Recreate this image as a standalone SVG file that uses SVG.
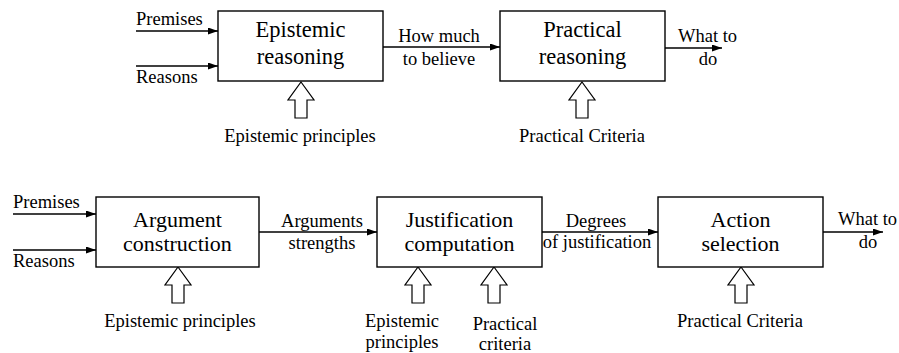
<svg xmlns="http://www.w3.org/2000/svg" width="899" height="353" viewBox="0 0 899 353">
<defs>
<style>
.box{fill:#fff;stroke:#000;stroke-width:1.4}
text{font-family:'Liberation Serif','Times New Roman',serif;fill:#000}
.big{font-size:22.5px;text-anchor:middle}
.big2{font-size:22px;text-anchor:middle}
.sm{font-size:18.5px}
.mid{text-anchor:middle}
.ln{stroke:#000;stroke-width:1.3;fill:none;marker-end:url(#ah)}
.blk{fill:#fff;stroke:#000;stroke-width:1.2;stroke-linejoin:miter}
</style>
<marker id="ah" markerUnits="userSpaceOnUse" markerWidth="11" markerHeight="8" refX="10" refY="3.5" orient="auto">
<path d="M0,0 L10,3.5 L0,7 z" fill="#000"/>
</marker>
<path id="blkTop" d="M0,0 L13,18 L6,18 L6,36 L-6,36 L-6,18 L-13,18 z"/>
</defs>

<g id="connectors">
<line class="ln" x1="136" y1="31" x2="218" y2="31"/>
<line class="ln" x1="136" y1="66" x2="218" y2="66"/>
<line class="ln" x1="383" y1="47" x2="500" y2="47"/>
<line class="ln" x1="665" y1="48" x2="722" y2="48"/>
<line class="ln" x1="13" y1="214" x2="96" y2="214"/>
<line class="ln" x1="13" y1="250" x2="96" y2="250"/>
<line class="ln" x1="259" y1="232" x2="377" y2="232"/>
<line class="ln" x1="542" y1="232" x2="658" y2="232"/>
<line class="ln" x1="823" y1="232" x2="883" y2="232"/>
<use href="#blkTop" class="blk" x="301" y="82"/>
<use href="#blkTop" class="blk" x="582" y="82"/>
<use href="#blkTop" class="blk" x="178" y="267"/>
<use href="#blkTop" class="blk" x="418" y="267"/>
<use href="#blkTop" class="blk" x="494" y="267"/>
<use href="#blkTop" class="blk" x="741" y="267"/>
</g>

<g id="labels-top">
<text class="sm" x="136" y="25">Premises</text>
<text class="sm" x="136" y="83">Reasons</text>
<text class="sm mid" x="439" y="42">How much</text>
<text class="sm mid" x="439" y="65">to believe</text>
<text class="sm" x="678" y="42">What to</text>
<text class="sm mid" x="708" y="65">do</text>
<text class="sm mid" x="300" y="142">Epistemic principles</text>
<text class="sm mid" x="582" y="142">Practical Criteria</text>
</g>

<g id="epistemic-reasoning">
<rect class="box" x="218" y="11" width="165" height="70"/>
<text class="big" x="300.5" y="37">Epistemic</text>
<text class="big" x="300.5" y="64">reasoning</text>
</g>

<g id="practical-reasoning">
<rect class="box" x="500" y="11" width="165" height="70"/>
<text class="big" x="582.5" y="37">Practical</text>
<text class="big" x="582.5" y="64">reasoning</text>
</g>

<g id="labels-bottom">
<text class="sm" x="13" y="208">Premises</text>
<text class="sm" x="13" y="267">Reasons</text>
<text class="sm mid" x="322" y="227">Arguments</text>
<text class="sm mid" x="322" y="249">strengths</text>
<text class="sm mid" x="596" y="227">Degrees</text>
<text class="sm mid" x="597" y="248">of justification</text>
<text class="sm" x="838" y="225">What to</text>
<text class="sm mid" x="868" y="248">do</text>
<text class="sm mid" x="180" y="327">Epistemic principles</text>
<text class="sm mid" x="402" y="327">Epistemic</text>
<text class="sm mid" x="402" y="348">principles</text>
<text class="sm mid" x="505" y="330">Practical</text>
<text class="sm mid" x="505" y="350">criteria</text>
<text class="sm mid" x="740" y="327">Practical Criteria</text>
</g>

<g id="argument-construction">
<rect class="box" x="96" y="197" width="163" height="70"/>
<text class="big2" x="177.5" y="227">Argument</text>
<text class="big2" x="177.5" y="250.5">construction</text>
</g>

<g id="justification-computation">
<rect class="box" x="377" y="197" width="165" height="70"/>
<text class="big2" x="459.5" y="227">Justification</text>
<text class="big2" x="459.5" y="250.5">computation</text>
</g>

<g id="action-selection">
<rect class="box" x="658" y="197" width="165" height="70"/>
<text class="big2" x="740.5" y="227">Action</text>
<text class="big2" x="740.5" y="250.5">selection</text>
</g>
</svg>
